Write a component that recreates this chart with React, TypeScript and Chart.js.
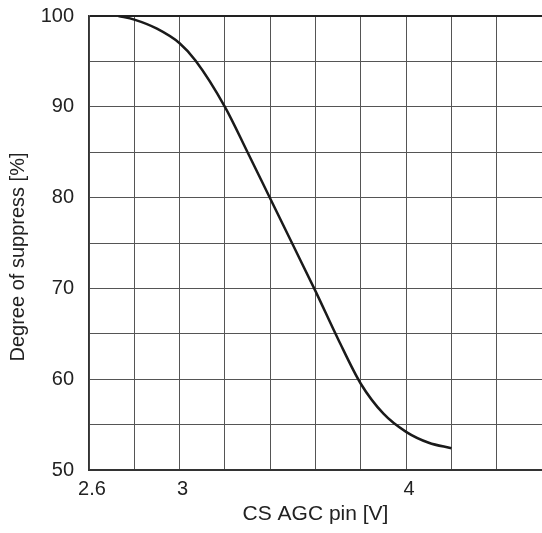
import React, { useEffect, useRef } from "react";
import { Chart, registerables } from "chart.js";

Chart.register(...registerables);

// Curve data
const voltage = [2.73, 2.8, 2.9, 3.0, 3.07, 3.2, 3.3, 3.4, 3.5, 3.6, 3.7, 3.8, 3.9, 4.0, 4.1, 4.2];
const suppress = [100, 99.6, 98.6, 97.0, 95.1, 90.0, 85.0, 79.9, 74.8, 69.7, 64.4, 59.5, 56.2, 54.2, 53.0, 52.4];

// Axes
const xGridValues = [2.6, 2.8, 3.0, 3.2, 3.4, 3.6, 3.8, 4.0, 4.2, 4.4];
const xLabeledTicks = [2.6, 3, 4];
const xMin = 2.6;
const xMax = 4.6;
const yMin = 50;
const yMax = 100;
const yStep = 5;
const yLabeledTicks = [50, 60, 70, 80, 90, 100];

const xTitle = "CS AGC pin [V]";
const yTitle = "Degree of suppress [%]";

const FONT = "'Liberation Sans', Arial, Helvetica, sans-serif";

export default function App() {
  const canvasRef = useRef<HTMLCanvasElement | null>(null);

  useEffect(() => {
    document.body.style.margin = "0";
    const canvas = canvasRef.current;
    if (!canvas) return;

    const yTitlePlugin = {
      id: "yTitlePlugin",
      afterDraw(chart: any) {
        const ctx = chart.ctx;
        ctx.save();
        ctx.translate(18, 257);
        ctx.rotate(-Math.PI / 2);
        ctx.textAlign = "center";
        ctx.textBaseline = "middle";
        ctx.fillStyle = "#222";
        ctx.font = `20px ${FONT}`;
        ctx.fillText(yTitle, 0, 0);
        ctx.restore();
      },
    };

    const chart = new Chart(canvas, {
      type: "line",
      data: {
        datasets: [
          {
            data: voltage.map((v, i) => ({ x: v, y: suppress[i] })),
            borderColor: "#1a1a1a",
            borderWidth: 2.5,
            pointRadius: 0,
            fill: false,
            cubicInterpolationMode: "monotone",
          },
        ],
      },
      plugins: [yTitlePlugin],
      options: {
        animation: false,
        responsive: false,
        layout: { padding: { top: 16, right: 0, left: 0, bottom: 0 } },
        plugins: {
          legend: { display: false },
          tooltip: { enabled: false },
        },
        scales: {
          x: {
            type: "linear",
            min: xMin,
            max: xMax,
            afterBuildTicks: (scale: any) => {
              scale.ticks = xGridValues.map((v) => ({ value: v }));
            },
            afterFit: (scale: any) => {
              scale.height = 63;
              scale.paddingLeft = 0;
              scale.paddingRight = 0;
            },
            grid: {
              color: "#555",
              lineWidth: 1,
              drawTicks: false,
            },
            border: { color: "#333", width: 2 },
            ticks: {
              autoSkip: false,
              maxRotation: 0,
              padding: 7,
              labelOffset: 3,
              color: "#222",
              font: { family: FONT, size: 20 },
              callback: (value: any) =>
                xLabeledTicks.some((t) => Math.abs(t - Number(value)) < 1e-6)
                  ? String(Number(value))
                  : "",
            },
            title: {
              display: true,
              text: xTitle,
              color: "#222",
              font: { family: FONT, size: 21 },
              padding: { top: 0, bottom: 6 },
            },
          },
          y: {
            type: "linear",
            min: yMin,
            max: yMax,
            afterFit: (scale: any) => {
              scale.width = 89;
              scale.paddingTop = 0;
              scale.paddingBottom = 0;
            },
            grid: {
              color: (c: any) => (c.tick && c.tick.value === yMax ? "#222" : "#555"),
              lineWidth: (c: any) => (c.tick && c.tick.value === yMax ? 2 : 1),
              drawTicks: false,
            },
            border: { color: "#333", width: 1.5 },
            ticks: {
              stepSize: yStep,
              autoSkip: false,
              padding: 15,
              color: "#222",
              font: { family: FONT, size: 20 },
              callback: (value: any) =>
                yLabeledTicks.includes(Number(value)) ? String(value) : "",
            },
            title: { display: false, text: yTitle },
          },
        },
      },
    } as any);

    return () => chart.destroy();
  }, []);

  return (
    <div style={{ width: 542, height: 533 }}>
      <canvas ref={canvasRef} width={542} height={533} style={{ display: "block" }} />
    </div>
  );
}
